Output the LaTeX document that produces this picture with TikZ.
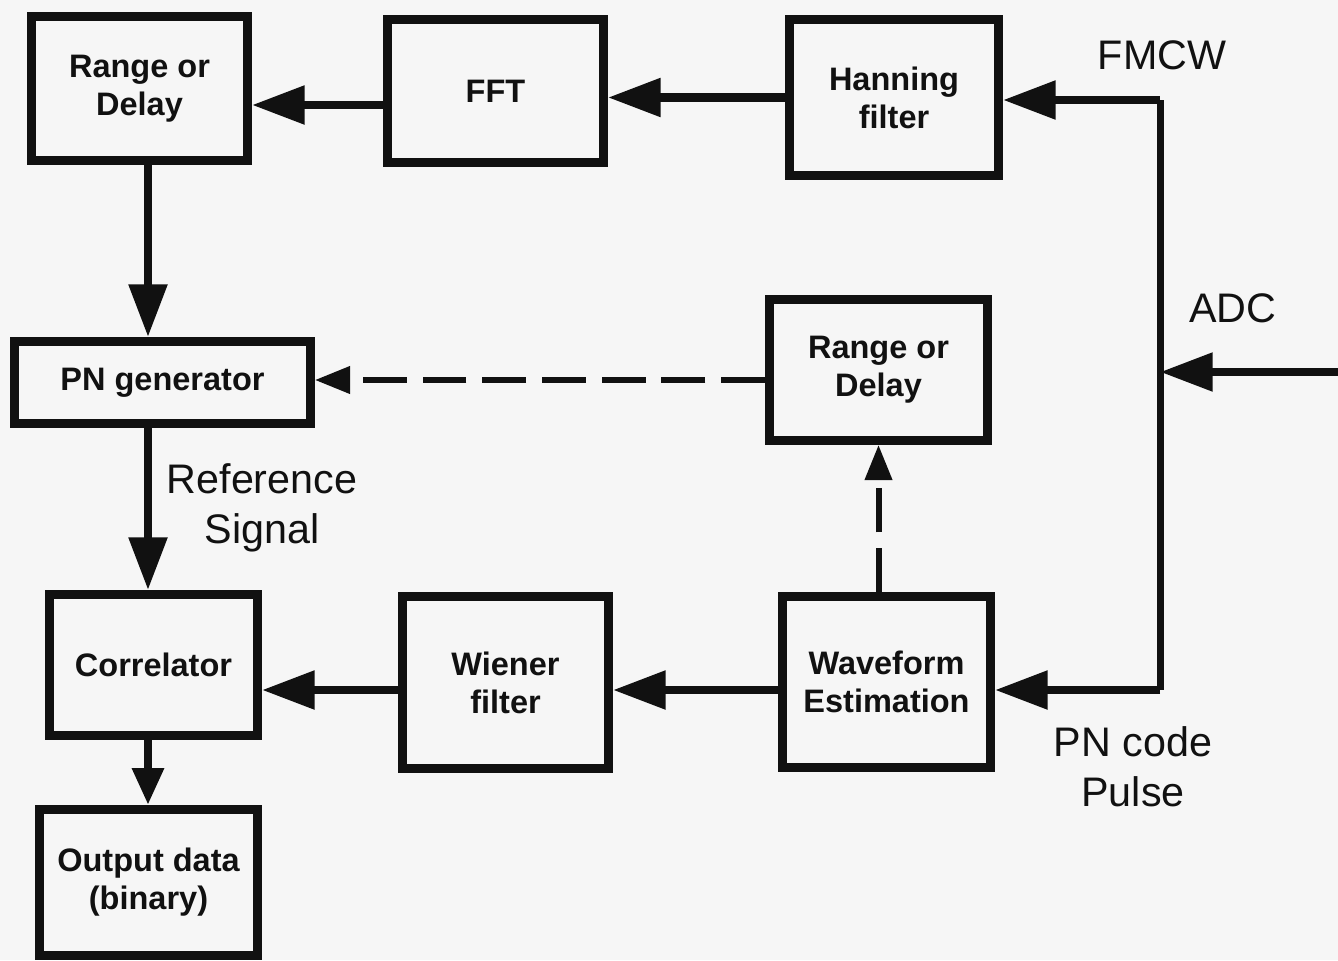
\documentclass[tikz,border=0pt]{standalone}
\usepackage{fontspec}
\setmainfont{Liberation Sans}
\usetikzlibrary{arrows.meta}
\definecolor{bg}{HTML}{F6F6F6}
\definecolor{ink}{HTML}{111111}
\tikzset{
 box/.style={draw=ink, line width=5pt, rectangle, inner sep=0pt, align=center,
   font=\bfseries\fontsize{18.5}{21.6}\selectfont, text=ink},
 lbl/.style={align=center, font=\fontsize{23.5}{28.5}\selectfont, text=ink, inner sep=0pt},
 arr/.style={draw=ink, line width=5pt, -{Triangle[length=30pt,width=21pt]}},
 smallarr/.style={draw=ink, line width=5pt, -{Triangle[length=21pt,width=17pt]}},
 darr/.style={draw=ink, line width=3.4pt, dash pattern=on 25pt off 9pt, -{Triangle[length=20pt,width=15pt]}},
 feed/.style={draw=ink, line width=4pt, line cap=square},
}
\begin{document}
\begin{tikzpicture}[x=0.02cm,y=-0.02cm]
\fill[bg] (0,0) rectangle (1338,960);
\useasboundingbox (0,0) rectangle (1338,960);

% boxes
\node[box, minimum width=4.32cm, minimum height=2.88cm] (r1) at (139.5,88.5) {Range or\\Delay};
\node[box, minimum width=4.32cm, minimum height=2.86cm] (fft) at (495.5,91) {FFT};
\node[box, minimum width=4.18cm, minimum height=3.12cm] (hann) at (894,97.5) {Hanning\\filter};
\node[box, minimum width=4.36cm, minimum height=2.82cm] (r2) at (878.5,370) {Range or\\Delay};
\node[box, minimum width=5.92cm, minimum height=1.64cm] (pn) at (162.5,382.5) {PN generator};
\node[box, minimum width=4.16cm, minimum height=2.82cm] (corr) at (153.5,665) {Correlator};
\node[box, minimum width=4.12cm, minimum height=3.44cm] (wiener) at (505.5,682.5) {Wiener\\filter};
\node[box, minimum width=4.16cm, minimum height=3.42cm] (wave) at (886.5,682) {Waveform\\Estimation};
\node[box, minimum width=4.36cm, minimum height=2.92cm] (out) at (148.5,882.5) {Output data\\(binary)};

% labels
\node[lbl] (fmcw) at (1162,55) {FMCW};
\node[lbl] (adcl) at (1233,308) {ADC};
\node[lbl] (refl) at (262,508) {Reference\\Signal};
\node[lbl] (pnl) at (1133,767) {PN code\\Pulse};

% helper coordinates
\coordinate (jtop) at (1160,100);
\coordinate (jbot) at (1160,690);
\coordinate (adc) at (1340,372);
\coordinate (colL) at (148,0);
\coordinate (rowA) at (0,105);
\coordinate (rowD) at (0,380);
\coordinate (rowE) at (0,690);

% connectors
\draw[arr] (fft.west |- rowA) -- (r1.east |- rowA);
\draw[arr] (hann.west) -- (hann.west -| fft.east);
\draw[feed] (jtop) -- (jbot);
\draw[arr] (jtop) -- (jtop -| hann.east);
\draw[arr] (jbot) -- (jbot -| wave.east);
\draw[arr] (adc) -- (adc -| jtop);
\draw[arr] (r1.south -| colL) -- (pn.north -| colL);
\draw[arr] (pn.south -| colL) -- (corr.north -| colL);
\draw[smallarr] (corr.south -| colL) -- (out.north -| colL);
\draw[darr] (r2.west |- rowD) -- (pn.east |- rowD);
\draw[darr] (wave.north -| r2.south) -- (r2.south);
\draw[arr] (wave.west |- rowE) -- (wiener.east |- rowE);
\draw[arr] (wiener.west |- rowE) -- (corr.east |- rowE);
\end{tikzpicture}
\end{document}
